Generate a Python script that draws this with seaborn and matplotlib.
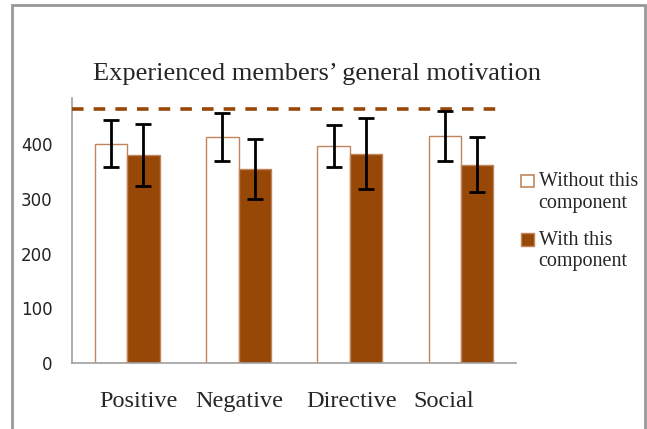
import numpy as np
import pandas as pd
import matplotlib
matplotlib.use("Agg")
import matplotlib.pyplot as plt
import matplotlib.transforms as mtransforms
import seaborn as sns
from matplotlib.patches import Rectangle, Patch
from matplotlib.legend_handler import HandlerPatch

# data
categories = ["Positive", "Negative", "Directive", "Social"]
series = ["Without this\ncomponent", "With this\ncomponent"]
without_vals = [401, 413, 397, 415]
without_err = [43, 44, 39, 45]
with_vals = [381, 354, 383, 363]
with_err = [57, 55, 65, 51]
reference_level = 464

BROWN = "#974806"
EDGE = "#c0855a"

df = pd.DataFrame({
    "category": categories * 2,
    "series": [series[0]] * 4 + [series[1]] * 4,
    "value": without_vals + with_vals,
})

sns.set_style("white")
plt.rcParams["font.family"] = ["Liberation Serif", "DejaVu Serif"]

fig = plt.figure(figsize=(6.47, 4.29), dpi=100)
ax = fig.add_axes([0.111, 0.154, 0.687, 0.618])

sns.barplot(data=df, x="category", y="value", hue="series", order=categories,
            hue_order=series, palette={series[0]: "white", series[1]: BROWN},
            width=0.58, saturation=1, errorbar=None, ax=ax, legend=False)

# bar edges + error bars
for cont, errs in zip(ax.containers, [without_err, with_err]):
    xs, ys = [], []
    for p in cont:
        p.set_edgecolor(EDGE)
        p.set_linewidth(1.0)
        xs.append(p.get_x() + p.get_width() / 2)
        ys.append(p.get_height())
    ax.errorbar(xs, ys, yerr=errs, fmt="none", ecolor="black",
                elinewidth=2, capsize=6, capthick=2, zorder=5)

# dashed reference line
ax.plot([-0.5, 3.32], [reference_level] * 2, color=BROWN, lw=2.6,
        ls=(0, (3.2, 2.8)), zorder=4, clip_on=False)

ax.set_xlim(-0.5, 3.5)
ax.set_ylim(0, 485)
ax.set_yticks([0, 100, 200, 300, 400])
ax.set_yticklabels(["0", "100", "200", "300", "400"],
                   family="DejaVu Sans", fontsize=12, color="#222222")
ax.tick_params(axis="y", length=0, pad=14)
ax.tick_params(axis="x", length=0, pad=20, labelsize=17.5)
ax.set_xlabel("")
ax.set_ylabel("")
# category labels in the original sit a bit off the bar centres
for lab, dx in zip(ax.get_xticklabels(), [11, 1, 2, -17]):
    lab.set_transform(lab.get_transform() +
                      mtransforms.ScaledTranslation(dx / 100, 0, fig.dpi_scale_trans))
for s in ["top", "right"]:
    ax.spines[s].set_visible(False)
for s in ["left", "bottom"]:
    ax.spines[s].set_color("#a0a0a0")
    ax.spines[s].set_linewidth(1.2)

fig.text(0.49, 0.828, "Experienced members\u2019 general motivation",
         ha="center", va="center", fontsize=19)


# legend squares line up with the first line of each label
def top_square(legend, orig_handle, xdescent, ydescent, width, height, fontsize):
    return Rectangle((-xdescent, -ydescent + 0.55 * fontsize), width, height)


handles = [Patch(facecolor="white", edgecolor=EDGE, lw=1.2),
           Patch(facecolor=BROWN, edgecolor=EDGE, lw=1.0)]
fig.legend(handles, series, loc="upper left", bbox_to_anchor=(0.778, 0.642),
           frameon=False, fontsize=14.5, handlelength=0.6, handleheight=0.6,
           handletextpad=0.25, labelspacing=0.9,
           handler_map={Patch: HandlerPatch(patch_func=top_square)})

# chart border
fig.patches.append(Rectangle((0.019, -0.05), 0.978, 1.038, transform=fig.transFigure,
                             fill=False, edgecolor="#999999", lw=2))

fig.savefig("out.png", dpi=100)
